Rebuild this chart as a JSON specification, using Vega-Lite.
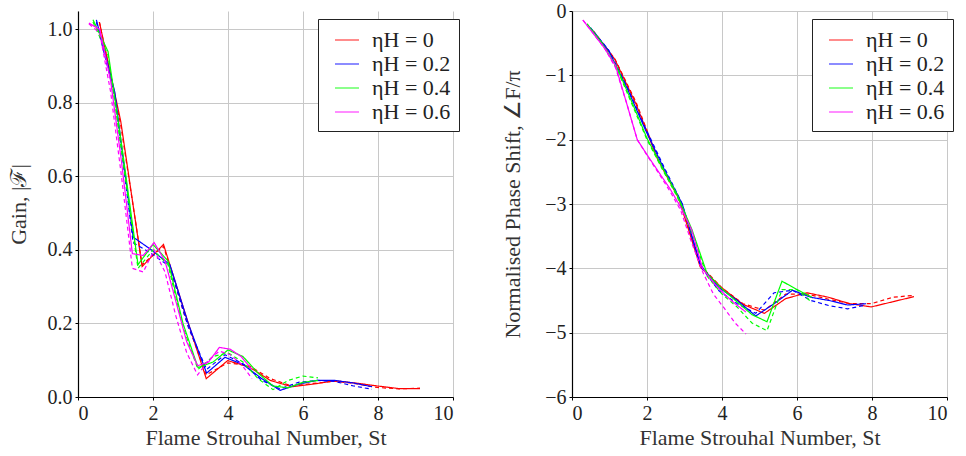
{
  "$schema": "https://vega.github.io/schema/vega-lite/v6.json",
  "padding": {"left": 7, "top": 1, "right": 5, "bottom": 2},
  "background": "white",
  "spacing": 41,
  "config": {
    "font": "Liberation Serif",
    "view": {"stroke": null},
    "axis": {
      "domainColor": "black",
      "domainWidth": 1.2,
      "gridColor": "#c8c8c8",
      "gridWidth": 1,
      "tickColor": "black",
      "tickSize": 3,
      "labelFont": "Liberation Serif",
      "labelFontSize": 20,
      "labelColor": "#222",
      "titleFont": "Liberation Serif",
      "titleFontSize": 22,
      "titleFontWeight": "normal",
      "titleColor": "#333",
      "labelPadding": 3
    },
    "legend": {
      "orient": "none",
      "legendX": 240,
      "legendY": 8,
      "strokeColor": "#222",
      "padding": 8,
      "fillColor": "white",
      "symbolType": "stroke",
      "symbolSize": 576,
      "symbolOffset": 8,
      "symbolStrokeWidth": 1.5,
      "symbolOpacity": 0.6,
      "labelFont": "Liberation Serif",
      "labelFontSize": 22,
      "labelColor": "#222",
      "labelOffset": 12,
      "rowPadding": 0,
      "title": null
    }
  },
  "resolve": {"scale": {"color": "independent", "strokeDash": "independent"}, "legend": {"color": "independent"}},
  "datasets": {
    "gain": [
      {"eta":"ηH = 0","style":"solid","St":0.57,"value":1.02},
      {"eta":"ηH = 0","style":"solid","St":1.14,"value":0.75},
      {"eta":"ηH = 0","style":"solid","St":1.71,"value":0.355},
      {"eta":"ηH = 0","style":"solid","St":2.28,"value":0.415},
      {"eta":"ηH = 0","style":"solid","St":2.85,"value":0.23},
      {"eta":"ηH = 0","style":"solid","St":3.42,"value":0.05},
      {"eta":"ηH = 0","style":"solid","St":3.99,"value":0.099},
      {"eta":"ηH = 0","style":"solid","St":4.56,"value":0.082},
      {"eta":"ηH = 0","style":"solid","St":5.13,"value":0.045},
      {"eta":"ηH = 0","style":"solid","St":5.70,"value":0.028},
      {"eta":"ηH = 0","style":"solid","St":6.27,"value":0.035},
      {"eta":"ηH = 0","style":"solid","St":6.84,"value":0.044},
      {"eta":"ηH = 0","style":"solid","St":7.41,"value":0.038},
      {"eta":"ηH = 0","style":"solid","St":7.98,"value":0.030},
      {"eta":"ηH = 0","style":"solid","St":8.55,"value":0.023},
      {"eta":"ηH = 0","style":"solid","St":9.12,"value":0.023},
      {"eta":"ηH = 0","style":"dashed","St":0.57,"value":1.02},
      {"eta":"ηH = 0","style":"dashed","St":1.14,"value":0.74},
      {"eta":"ηH = 0","style":"dashed","St":1.71,"value":0.36},
      {"eta":"ηH = 0","style":"dashed","St":2.28,"value":0.41},
      {"eta":"ηH = 0","style":"dashed","St":2.85,"value":0.22},
      {"eta":"ηH = 0","style":"dashed","St":3.42,"value":0.06},
      {"eta":"ηH = 0","style":"dashed","St":3.99,"value":0.093},
      {"eta":"ηH = 0","style":"dashed","St":4.56,"value":0.085},
      {"eta":"ηH = 0","style":"dashed","St":5.13,"value":0.05},
      {"eta":"ηH = 0","style":"dashed","St":5.70,"value":0.03},
      {"eta":"ηH = 0","style":"dashed","St":6.27,"value":0.037},
      {"eta":"ηH = 0","style":"dashed","St":6.84,"value":0.043},
      {"eta":"ηH = 0","style":"dashed","St":7.41,"value":0.036},
      {"eta":"ηH = 0","style":"dashed","St":7.98,"value":0.026},
      {"eta":"ηH = 0","style":"dashed","St":8.55,"value":0.022},
      {"eta":"ηH = 0","style":"dashed","St":9.12,"value":0.024},
      {"eta":"ηH = 0.2","style":"solid","St":0.49,"value":1.026},
      {"eta":"ηH = 0.2","style":"solid","St":0.98,"value":0.83},
      {"eta":"ηH = 0.2","style":"solid","St":1.47,"value":0.435},
      {"eta":"ηH = 0.2","style":"solid","St":1.96,"value":0.40},
      {"eta":"ηH = 0.2","style":"solid","St":2.45,"value":0.36},
      {"eta":"ηH = 0.2","style":"solid","St":2.94,"value":0.20},
      {"eta":"ηH = 0.2","style":"solid","St":3.43,"value":0.065},
      {"eta":"ηH = 0.2","style":"solid","St":3.92,"value":0.108},
      {"eta":"ηH = 0.2","style":"solid","St":4.41,"value":0.088},
      {"eta":"ηH = 0.2","style":"solid","St":4.90,"value":0.05},
      {"eta":"ηH = 0.2","style":"solid","St":5.39,"value":0.018},
      {"eta":"ηH = 0.2","style":"solid","St":5.88,"value":0.035},
      {"eta":"ηH = 0.2","style":"solid","St":6.37,"value":0.045},
      {"eta":"ηH = 0.2","style":"solid","St":6.86,"value":0.045},
      {"eta":"ηH = 0.2","style":"solid","St":7.35,"value":0.038},
      {"eta":"ηH = 0.2","style":"solid","St":7.84,"value":0.028},
      {"eta":"ηH = 0.2","style":"dashed","St":0.49,"value":1.02},
      {"eta":"ηH = 0.2","style":"dashed","St":0.98,"value":0.82},
      {"eta":"ηH = 0.2","style":"dashed","St":1.47,"value":0.42},
      {"eta":"ηH = 0.2","style":"dashed","St":1.96,"value":0.39},
      {"eta":"ηH = 0.2","style":"dashed","St":2.45,"value":0.355},
      {"eta":"ηH = 0.2","style":"dashed","St":2.94,"value":0.19},
      {"eta":"ηH = 0.2","style":"dashed","St":3.43,"value":0.075},
      {"eta":"ηH = 0.2","style":"dashed","St":3.92,"value":0.115},
      {"eta":"ηH = 0.2","style":"dashed","St":4.41,"value":0.09},
      {"eta":"ηH = 0.2","style":"dashed","St":4.90,"value":0.045},
      {"eta":"ηH = 0.2","style":"dashed","St":5.39,"value":0.022},
      {"eta":"ηH = 0.2","style":"dashed","St":5.88,"value":0.04},
      {"eta":"ηH = 0.2","style":"dashed","St":6.37,"value":0.045},
      {"eta":"ηH = 0.2","style":"dashed","St":6.86,"value":0.042},
      {"eta":"ηH = 0.2","style":"dashed","St":7.35,"value":0.03},
      {"eta":"ηH = 0.2","style":"dashed","St":7.84,"value":0.021},
      {"eta":"ηH = 0.4","style":"solid","St":0.4,"value":1.026},
      {"eta":"ηH = 0.4","style":"solid","St":0.8,"value":0.94},
      {"eta":"ηH = 0.4","style":"solid","St":1.2,"value":0.66},
      {"eta":"ηH = 0.4","style":"solid","St":1.6,"value":0.36},
      {"eta":"ηH = 0.4","style":"solid","St":2.0,"value":0.415},
      {"eta":"ηH = 0.4","style":"solid","St":2.4,"value":0.37},
      {"eta":"ηH = 0.4","style":"solid","St":2.8,"value":0.2},
      {"eta":"ηH = 0.4","style":"solid","St":3.2,"value":0.08},
      {"eta":"ηH = 0.4","style":"solid","St":3.6,"value":0.095},
      {"eta":"ηH = 0.4","style":"solid","St":4.0,"value":0.128},
      {"eta":"ηH = 0.4","style":"solid","St":4.4,"value":0.11},
      {"eta":"ηH = 0.4","style":"solid","St":4.8,"value":0.065},
      {"eta":"ηH = 0.4","style":"solid","St":5.2,"value":0.03},
      {"eta":"ηH = 0.4","style":"solid","St":5.6,"value":0.025},
      {"eta":"ηH = 0.4","style":"solid","St":6.0,"value":0.04},
      {"eta":"ηH = 0.4","style":"solid","St":6.4,"value":0.045},
      {"eta":"ηH = 0.4","style":"dashed","St":0.4,"value":1.02},
      {"eta":"ηH = 0.4","style":"dashed","St":0.8,"value":0.93},
      {"eta":"ηH = 0.4","style":"dashed","St":1.2,"value":0.64},
      {"eta":"ηH = 0.4","style":"dashed","St":1.6,"value":0.35},
      {"eta":"ηH = 0.4","style":"dashed","St":2.0,"value":0.40},
      {"eta":"ηH = 0.4","style":"dashed","St":2.4,"value":0.36},
      {"eta":"ηH = 0.4","style":"dashed","St":2.8,"value":0.19},
      {"eta":"ηH = 0.4","style":"dashed","St":3.2,"value":0.075},
      {"eta":"ηH = 0.4","style":"dashed","St":3.6,"value":0.11},
      {"eta":"ηH = 0.4","style":"dashed","St":4.0,"value":0.12},
      {"eta":"ηH = 0.4","style":"dashed","St":4.4,"value":0.095},
      {"eta":"ηH = 0.4","style":"dashed","St":4.8,"value":0.05},
      {"eta":"ηH = 0.4","style":"dashed","St":5.2,"value":0.02},
      {"eta":"ηH = 0.4","style":"dashed","St":5.6,"value":0.045},
      {"eta":"ηH = 0.4","style":"dashed","St":6.0,"value":0.057},
      {"eta":"ηH = 0.4","style":"dashed","St":6.4,"value":0.052},
      {"eta":"ηH = 0.6","style":"solid","St":0.29,"value":1.017},
      {"eta":"ηH = 0.6","style":"solid","St":0.58,"value":1.0},
      {"eta":"ηH = 0.6","style":"solid","St":0.87,"value":0.86},
      {"eta":"ηH = 0.6","style":"solid","St":1.16,"value":0.64},
      {"eta":"ηH = 0.6","style":"solid","St":1.45,"value":0.39},
      {"eta":"ηH = 0.6","style":"solid","St":1.74,"value":0.385},
      {"eta":"ηH = 0.6","style":"solid","St":2.03,"value":0.42},
      {"eta":"ηH = 0.6","style":"solid","St":2.32,"value":0.37},
      {"eta":"ηH = 0.6","style":"solid","St":2.61,"value":0.26},
      {"eta":"ηH = 0.6","style":"solid","St":2.9,"value":0.15},
      {"eta":"ηH = 0.6","style":"solid","St":3.19,"value":0.085},
      {"eta":"ηH = 0.6","style":"solid","St":3.48,"value":0.095},
      {"eta":"ηH = 0.6","style":"solid","St":3.77,"value":0.135},
      {"eta":"ηH = 0.6","style":"solid","St":4.06,"value":0.13},
      {"eta":"ηH = 0.6","style":"solid","St":4.35,"value":0.11},
      {"eta":"ηH = 0.6","style":"solid","St":4.64,"value":0.075},
      {"eta":"ηH = 0.6","style":"dashed","St":0.29,"value":1.015},
      {"eta":"ηH = 0.6","style":"dashed","St":0.58,"value":0.99},
      {"eta":"ηH = 0.6","style":"dashed","St":0.87,"value":0.83},
      {"eta":"ηH = 0.6","style":"dashed","St":1.16,"value":0.6},
      {"eta":"ηH = 0.6","style":"dashed","St":1.45,"value":0.35},
      {"eta":"ηH = 0.6","style":"dashed","St":1.74,"value":0.34},
      {"eta":"ηH = 0.6","style":"dashed","St":2.03,"value":0.40},
      {"eta":"ηH = 0.6","style":"dashed","St":2.32,"value":0.34},
      {"eta":"ηH = 0.6","style":"dashed","St":2.61,"value":0.22},
      {"eta":"ηH = 0.6","style":"dashed","St":2.9,"value":0.12},
      {"eta":"ηH = 0.6","style":"dashed","St":3.19,"value":0.06},
      {"eta":"ηH = 0.6","style":"dashed","St":3.48,"value":0.1},
      {"eta":"ηH = 0.6","style":"dashed","St":3.77,"value":0.125},
      {"eta":"ηH = 0.6","style":"dashed","St":4.06,"value":0.115},
      {"eta":"ηH = 0.6","style":"dashed","St":4.35,"value":0.09},
      {"eta":"ηH = 0.6","style":"dashed","St":4.64,"value":0.05}
    ],
    "phase": [
      {"eta":"ηH = 0","style":"solid","St":0.57,"value":-0.32},
      {"eta":"ηH = 0","style":"solid","St":1.14,"value":-0.75},
      {"eta":"ηH = 0","style":"solid","St":1.71,"value":-1.45},
      {"eta":"ηH = 0","style":"solid","St":2.28,"value":-2.3},
      {"eta":"ηH = 0","style":"solid","St":2.85,"value":-2.92},
      {"eta":"ηH = 0","style":"solid","St":3.42,"value":-3.98},
      {"eta":"ηH = 0","style":"solid","St":3.99,"value":-4.3},
      {"eta":"ηH = 0","style":"solid","St":4.56,"value":-4.56},
      {"eta":"ηH = 0","style":"solid","St":5.13,"value":-4.7},
      {"eta":"ηH = 0","style":"solid","St":5.70,"value":-4.47},
      {"eta":"ηH = 0","style":"solid","St":6.27,"value":-4.38},
      {"eta":"ηH = 0","style":"solid","St":6.84,"value":-4.45},
      {"eta":"ηH = 0","style":"solid","St":7.41,"value":-4.55},
      {"eta":"ηH = 0","style":"solid","St":7.98,"value":-4.6},
      {"eta":"ηH = 0","style":"solid","St":8.55,"value":-4.52},
      {"eta":"ηH = 0","style":"solid","St":9.12,"value":-4.44},
      {"eta":"ηH = 0","style":"dashed","St":0.57,"value":-0.31},
      {"eta":"ηH = 0","style":"dashed","St":1.14,"value":-0.74},
      {"eta":"ηH = 0","style":"dashed","St":1.71,"value":-1.42},
      {"eta":"ηH = 0","style":"dashed","St":2.28,"value":-2.28},
      {"eta":"ηH = 0","style":"dashed","St":2.85,"value":-2.9},
      {"eta":"ηH = 0","style":"dashed","St":3.42,"value":-3.95},
      {"eta":"ηH = 0","style":"dashed","St":3.99,"value":-4.3},
      {"eta":"ηH = 0","style":"dashed","St":4.56,"value":-4.55},
      {"eta":"ηH = 0","style":"dashed","St":5.13,"value":-4.65},
      {"eta":"ηH = 0","style":"dashed","St":5.70,"value":-4.4},
      {"eta":"ηH = 0","style":"dashed","St":6.27,"value":-4.4},
      {"eta":"ηH = 0","style":"dashed","St":6.84,"value":-4.48},
      {"eta":"ηH = 0","style":"dashed","St":7.41,"value":-4.55},
      {"eta":"ηH = 0","style":"dashed","St":7.98,"value":-4.55},
      {"eta":"ηH = 0","style":"dashed","St":8.55,"value":-4.45},
      {"eta":"ηH = 0","style":"dashed","St":9.12,"value":-4.42},
      {"eta":"ηH = 0.2","style":"solid","St":0.49,"value":-0.26},
      {"eta":"ηH = 0.2","style":"solid","St":0.98,"value":-0.62},
      {"eta":"ηH = 0.2","style":"solid","St":1.47,"value":-1.2},
      {"eta":"ηH = 0.2","style":"solid","St":1.96,"value":-1.85},
      {"eta":"ηH = 0.2","style":"solid","St":2.45,"value":-2.45},
      {"eta":"ηH = 0.2","style":"solid","St":2.94,"value":-3.0},
      {"eta":"ηH = 0.2","style":"solid","St":3.43,"value":-3.95},
      {"eta":"ηH = 0.2","style":"solid","St":3.92,"value":-4.3},
      {"eta":"ηH = 0.2","style":"solid","St":4.41,"value":-4.5},
      {"eta":"ηH = 0.2","style":"solid","St":4.90,"value":-4.74},
      {"eta":"ηH = 0.2","style":"solid","St":5.39,"value":-4.55},
      {"eta":"ηH = 0.2","style":"solid","St":5.88,"value":-4.34},
      {"eta":"ηH = 0.2","style":"solid","St":6.37,"value":-4.45},
      {"eta":"ηH = 0.2","style":"solid","St":6.86,"value":-4.5},
      {"eta":"ηH = 0.2","style":"solid","St":7.35,"value":-4.57},
      {"eta":"ηH = 0.2","style":"solid","St":7.84,"value":-4.55},
      {"eta":"ηH = 0.2","style":"dashed","St":0.49,"value":-0.26},
      {"eta":"ηH = 0.2","style":"dashed","St":0.98,"value":-0.61},
      {"eta":"ηH = 0.2","style":"dashed","St":1.47,"value":-1.18},
      {"eta":"ηH = 0.2","style":"dashed","St":1.96,"value":-1.82},
      {"eta":"ηH = 0.2","style":"dashed","St":2.45,"value":-2.42},
      {"eta":"ηH = 0.2","style":"dashed","St":2.94,"value":-3.0},
      {"eta":"ηH = 0.2","style":"dashed","St":3.43,"value":-3.97},
      {"eta":"ηH = 0.2","style":"dashed","St":3.92,"value":-4.35},
      {"eta":"ηH = 0.2","style":"dashed","St":4.41,"value":-4.55},
      {"eta":"ηH = 0.2","style":"dashed","St":4.90,"value":-4.7},
      {"eta":"ηH = 0.2","style":"dashed","St":5.39,"value":-4.38},
      {"eta":"ηH = 0.2","style":"dashed","St":5.88,"value":-4.34},
      {"eta":"ηH = 0.2","style":"dashed","St":6.37,"value":-4.5},
      {"eta":"ηH = 0.2","style":"dashed","St":6.86,"value":-4.58},
      {"eta":"ηH = 0.2","style":"dashed","St":7.35,"value":-4.63},
      {"eta":"ηH = 0.2","style":"dashed","St":7.84,"value":-4.57},
      {"eta":"ηH = 0.4","style":"solid","St":0.4,"value":-0.2},
      {"eta":"ηH = 0.4","style":"solid","St":0.8,"value":-0.5},
      {"eta":"ηH = 0.4","style":"solid","St":1.2,"value":-0.88},
      {"eta":"ηH = 0.4","style":"solid","St":1.6,"value":-1.42},
      {"eta":"ηH = 0.4","style":"solid","St":2.0,"value":-1.98},
      {"eta":"ηH = 0.4","style":"solid","St":2.4,"value":-2.42},
      {"eta":"ηH = 0.4","style":"solid","St":2.8,"value":-2.85},
      {"eta":"ηH = 0.4","style":"solid","St":3.2,"value":-3.4},
      {"eta":"ηH = 0.4","style":"solid","St":3.6,"value":-4.08},
      {"eta":"ηH = 0.4","style":"solid","St":4.0,"value":-4.32},
      {"eta":"ηH = 0.4","style":"solid","St":4.4,"value":-4.52},
      {"eta":"ηH = 0.4","style":"solid","St":4.8,"value":-4.72},
      {"eta":"ηH = 0.4","style":"solid","St":5.2,"value":-4.83},
      {"eta":"ηH = 0.4","style":"solid","St":5.6,"value":-4.2},
      {"eta":"ηH = 0.4","style":"solid","St":6.0,"value":-4.33},
      {"eta":"ηH = 0.4","style":"solid","St":6.4,"value":-4.45},
      {"eta":"ηH = 0.4","style":"dashed","St":0.4,"value":-0.2},
      {"eta":"ηH = 0.4","style":"dashed","St":0.8,"value":-0.5},
      {"eta":"ηH = 0.4","style":"dashed","St":1.2,"value":-0.9},
      {"eta":"ηH = 0.4","style":"dashed","St":1.6,"value":-1.45},
      {"eta":"ηH = 0.4","style":"dashed","St":2.0,"value":-2.0},
      {"eta":"ηH = 0.4","style":"dashed","St":2.4,"value":-2.45},
      {"eta":"ηH = 0.4","style":"dashed","St":2.8,"value":-2.88},
      {"eta":"ηH = 0.4","style":"dashed","St":3.2,"value":-3.45},
      {"eta":"ηH = 0.4","style":"dashed","St":3.6,"value":-4.12},
      {"eta":"ηH = 0.4","style":"dashed","St":4.0,"value":-4.4},
      {"eta":"ηH = 0.4","style":"dashed","St":4.4,"value":-4.6},
      {"eta":"ηH = 0.4","style":"dashed","St":4.8,"value":-4.85},
      {"eta":"ηH = 0.4","style":"dashed","St":5.2,"value":-4.97},
      {"eta":"ηH = 0.4","style":"dashed","St":5.6,"value":-4.33},
      {"eta":"ηH = 0.4","style":"dashed","St":6.0,"value":-4.33},
      {"eta":"ηH = 0.4","style":"dashed","St":6.4,"value":-4.53},
      {"eta":"ηH = 0.6","style":"solid","St":0.29,"value":-0.14},
      {"eta":"ηH = 0.6","style":"solid","St":0.58,"value":-0.36},
      {"eta":"ηH = 0.6","style":"solid","St":0.87,"value":-0.58},
      {"eta":"ηH = 0.6","style":"solid","St":1.16,"value":-0.85},
      {"eta":"ηH = 0.6","style":"solid","St":1.45,"value":-1.42},
      {"eta":"ηH = 0.6","style":"solid","St":1.74,"value":-2.0},
      {"eta":"ηH = 0.6","style":"solid","St":2.03,"value":-2.26},
      {"eta":"ηH = 0.6","style":"solid","St":2.32,"value":-2.51},
      {"eta":"ηH = 0.6","style":"solid","St":2.61,"value":-2.76},
      {"eta":"ηH = 0.6","style":"solid","St":2.9,"value":-3.05},
      {"eta":"ηH = 0.6","style":"solid","St":3.19,"value":-3.4},
      {"eta":"ηH = 0.6","style":"solid","St":3.48,"value":-4.0},
      {"eta":"ηH = 0.6","style":"solid","St":3.77,"value":-4.22},
      {"eta":"ηH = 0.6","style":"solid","St":4.06,"value":-4.4},
      {"eta":"ηH = 0.6","style":"solid","St":4.35,"value":-4.55},
      {"eta":"ηH = 0.6","style":"solid","St":4.64,"value":-4.68},
      {"eta":"ηH = 0.6","style":"dashed","St":0.29,"value":-0.14},
      {"eta":"ηH = 0.6","style":"dashed","St":0.58,"value":-0.36},
      {"eta":"ηH = 0.6","style":"dashed","St":0.87,"value":-0.58},
      {"eta":"ηH = 0.6","style":"dashed","St":1.16,"value":-0.88},
      {"eta":"ηH = 0.6","style":"dashed","St":1.45,"value":-1.42},
      {"eta":"ηH = 0.6","style":"dashed","St":1.74,"value":-2.0},
      {"eta":"ηH = 0.6","style":"dashed","St":2.03,"value":-2.27},
      {"eta":"ηH = 0.6","style":"dashed","St":2.32,"value":-2.53},
      {"eta":"ηH = 0.6","style":"dashed","St":2.61,"value":-2.8},
      {"eta":"ηH = 0.6","style":"dashed","St":2.9,"value":-3.1},
      {"eta":"ηH = 0.6","style":"dashed","St":3.19,"value":-3.6},
      {"eta":"ηH = 0.6","style":"dashed","St":3.48,"value":-4.05},
      {"eta":"ηH = 0.6","style":"dashed","St":3.77,"value":-4.4},
      {"eta":"ηH = 0.6","style":"dashed","St":4.06,"value":-4.62},
      {"eta":"ηH = 0.6","style":"dashed","St":4.35,"value":-4.85},
      {"eta":"ηH = 0.6","style":"dashed","St":4.64,"value":-5.02}
    ]
  },
  "hconcat": [
    {
      "width": 375,
      "height": 386,
      "data": {"name": "gain"},
      "mark": {"type": "line", "strokeWidth": 1.2, "clip": true},
      "encoding": {
        "x": {"field": "St", "type": "quantitative", "scale": {"domain": [0, 10], "nice": false},
              "axis": {"title": "Flame Strouhal Number, St", "values": [0,2,4,6,8,10], "titlePadding": 4}},
        "y": {"field": "value", "type": "quantitative", "scale": {"domain": [0, 1.05], "nice": false, "zero": false},
              "axis": {"title": "Gain, |ℱ|", "values": [0,0.2,0.4,0.6,0.8,1], "titlePadding": 17}},
        "color": {"field": "eta", "type": "nominal",
                  "scale": {"domain": ["ηH = 0","ηH = 0.2","ηH = 0.4","ηH = 0.6"], "range": ["#ff0000","#0000ff","#00ff00","#ff00ff"]}},
        "strokeDash": {"field": "style", "type": "nominal",
                       "scale": {"domain": ["solid","dashed"], "range": [[1,0],[4,3]]}, "legend": null}
      }
    },
    {
      "width": 375,
      "height": 386,
      "data": {"name": "phase"},
      "mark": {"type": "line", "strokeWidth": 1.2, "clip": true},
      "encoding": {
        "x": {"field": "St", "type": "quantitative", "scale": {"domain": [0, 10], "nice": false},
              "axis": {"title": "Flame Strouhal Number, St", "values": [0,2,4,6,8,10], "titlePadding": 4}},
        "y": {"field": "value", "type": "quantitative", "scale": {"domain": [-6, 0], "nice": false, "zero": false},
              "axis": {"title": "Normalised Phase Shift, ∠F/π", "values": [-6,-5,-4,-3,-2,-1,0], "titlePadding": 20}},
        "color": {"field": "eta", "type": "nominal",
                  "scale": {"domain": ["ηH = 0","ηH = 0.2","ηH = 0.4","ηH = 0.6"], "range": ["#ff0000","#0000ff","#00ff00","#ff00ff"]}},
        "strokeDash": {"field": "style", "type": "nominal",
                       "scale": {"domain": ["solid","dashed"], "range": [[1,0],[4,3]]}, "legend": null}
      }
    }
  ]
}
